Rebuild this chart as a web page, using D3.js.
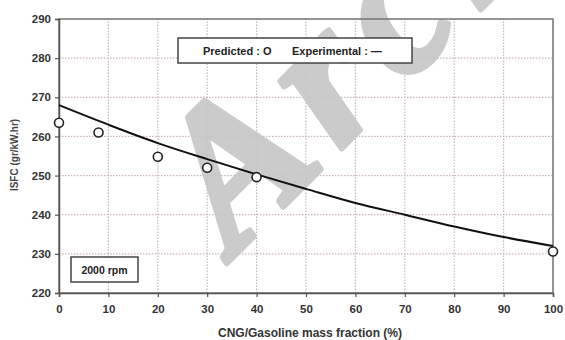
<!DOCTYPE html>
<html>
<head>
<meta charset="utf-8">
<script src="https://cdn.jsdelivr.net/npm/d3@7"></script>
<style>
  body { margin: 0; background: #fff; }
  svg text { font-family: Arial, "Liberation Sans", sans-serif; font-weight: bold; }
</style>
</head>
<body>
<svg id="chart" width="565" height="340"></svg>
<script>
// Predicted (circles) and experimental (line) ISFC values
const predX = [0, 8, 20, 30, 40, 100];
const predY = [263.5, 261, 254.8, 252, 249.6, 230.6];
const lineX = [0, 10, 20, 30, 40, 50, 60, 70, 80, 90, 100];
const lineY = [268, 263, 258.3, 254.2, 250.3, 246.6, 243, 240, 237, 234.3, 232];
const xTicks = d3.range(0, 101, 10);
const yTicks = d3.range(220, 291, 10);

const svg = d3.select('#chart');
const m = { left: 59, right: 12, top: 19, bottom: 47 };
const width = 565, height = 340;

const x = d3.scaleLinear().domain([0, 100]).range([m.left, width - m.right]);
const y = d3.scaleLinear().domain([220, 290]).range([height - m.bottom, m.top]);

// grid
const grid = svg.append('g');
grid.selectAll('.vg').data(xTicks.slice(1)).join('line')
    .attr('x1', d => x(d)).attr('x2', d => x(d))
    .attr('y1', y(220)).attr('y2', y(290))
    .attr('stroke', '#c9b4ba').attr('stroke-width', 1.2).attr('stroke-dasharray', '1.5,1.5');
grid.selectAll('.hg').data(yTicks.slice(1)).join('line')
    .attr('x1', x(0)).attr('x2', x(100))
    .attr('y1', d => y(d)).attr('y2', d => y(d))
    .attr('stroke', '#c9b4ba').attr('stroke-width', 1.2).attr('stroke-dasharray', '1.5,1.5');

// watermark from the scan (runs off the top edge as in the source)
svg.append('clipPath').attr('id', 'wm').append('rect')
    .attr('x', 0).attr('y', 0).attr('width', width).attr('height', height);
svg.append('g').attr('clip-path', 'url(#wm)')
  .append('text')
    .attr('transform', 'translate(234,256) rotate(-45)')
    .style('font-family', '"Liberation Serif", "Times New Roman", serif')
    .style('font-style', 'italic').style('font-weight', 'bold')
    .attr('letter-spacing', 16)
    .attr('font-size', 198).attr('fill', '#c6c6c6')
    .attr('stroke', '#c6c6c6').attr('stroke-width', 6).attr('stroke-linejoin', 'round')
    .attr('opacity', 0.9)
    .text('Arch');

// frame
svg.append('rect')
    .attr('x', x(0)).attr('y', y(290))
    .attr('width', x(100) - x(0)).attr('height', y(220) - y(290))
    .attr('fill', 'none').attr('stroke', '#777').attr('stroke-width', 1.5);

// axes
const xAxis = svg.append('g')
    .attr('transform', `translate(0,${y(220)})`)
    .call(d3.axisBottom(x).tickValues(xTicks).tickSize(4).tickPadding(8));
const yAxis = svg.append('g')
    .attr('transform', `translate(${x(0)},0)`)
    .call(d3.axisLeft(y).tickValues(yTicks).tickSize(4).tickPadding(4));
[xAxis, yAxis].forEach(a => {
    a.select('.domain').attr('stroke', '#555').attr('stroke-width', 1.5);
    a.selectAll('.tick line').attr('stroke', '#555').attr('stroke-width', 1.2);
    a.selectAll('.tick text').attr('fill', '#333').attr('font-size', 11.5).attr('font-weight', 'bold');
});

// axis titles
svg.append('text')
    .attr('x', (x(0) + x(100)) / 2 + 4).attr('y', 337)
    .attr('text-anchor', 'middle').attr('font-size', 12).attr('fill', '#333')
    .text('CNG/Gasoline mass fraction (%)');
svg.append('text')
    .attr('transform', 'translate(18,155) rotate(-90)')
    .attr('text-anchor', 'middle').attr('font-size', 10).attr('fill', '#444')
    .text('ISFC (gr/kW.hr)');

// experimental line
svg.append('path')
    .datum(lineX.map((d, i) => [d, lineY[i]]))
    .attr('fill', 'none').attr('stroke', '#111').attr('stroke-width', 2)
    .attr('d', d3.line().x(d => x(d[0])).y(d => y(d[1])).curve(d3.curveMonotoneX));

// predicted points
svg.selectAll('.pt').data(predX.map((d, i) => [d, predY[i]])).join('circle')
    .attr('cx', d => x(d[0])).attr('cy', d => y(d[1])).attr('r', 4.5)
    .attr('fill', '#fff').attr('stroke', '#222').attr('stroke-width', 1.6);

// legend box
svg.append('rect').attr('x', 178).attr('y', 38).attr('width', 234).attr('height', 25)
    .attr('fill', '#fff').attr('stroke', '#444').attr('stroke-width', 1.5);
svg.append('text').attr('x', 203).attr('y', 55).attr('font-size', 11).attr('fill', '#222')
    .text('Predicted : O');
svg.append('text').attr('x', 292).attr('y', 55).attr('font-size', 11).attr('fill', '#222')
    .text('Experimental : —');

// rpm box
svg.append('rect').attr('x', 71).attr('y', 257).attr('width', 67).attr('height', 25)
    .attr('fill', '#fff').attr('stroke', '#444').attr('stroke-width', 1.5);
svg.append('text').attr('x', 104.5).attr('y', 274).attr('text-anchor', 'middle')
    .attr('font-size', 10.5).attr('fill', '#222').text('2000 rpm');
</script>
</body>
</html>
